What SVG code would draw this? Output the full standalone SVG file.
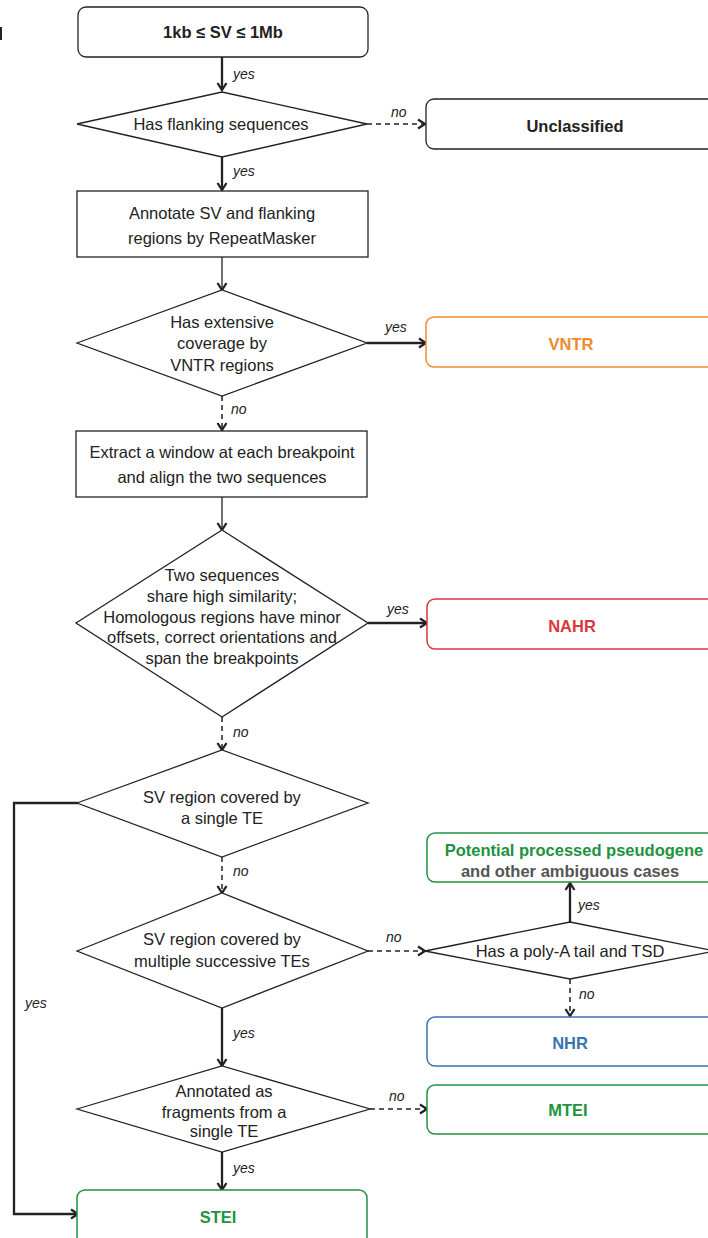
<svg xmlns="http://www.w3.org/2000/svg" width="708" height="1238" viewBox="0 0 708 1238">
<style>
.bg{fill:#fff}
.box{fill:#fff;stroke:#222;stroke-width:1.3}
.dia{fill:#fff;stroke:#222;stroke-width:1.3}
.t{font-family:"Liberation Sans",Arial,sans-serif;font-size:16.5px;fill:#222;text-anchor:middle;dominant-baseline:central}
.b{font-weight:bold}
.lab{font-family:"Liberation Sans",Arial,sans-serif;font-size:14px;font-style:italic;fill:#222;dominant-baseline:central}
.solid{fill:none;stroke:#222;stroke-width:2.3}
.thin{fill:none;stroke:#222;stroke-width:1.3}
.dash{fill:none;stroke:#222;stroke-width:1.5;stroke-dasharray:5 4}
</style>
<defs>
<marker id="ah" viewBox="0 0 12 12" refX="10" refY="6" markerWidth="12" markerHeight="12" markerUnits="userSpaceOnUse" orient="auto">
<path d="M3,1.5 L10,6 L3,10.5" fill="none" stroke="#222" stroke-width="2.3"/>
</marker>
</defs>
<rect class="bg" x="0" y="0" width="708" height="1238"/>
<rect x="0" y="27" width="2" height="13" fill="#222"/>

<g id="connectors">
<line class="solid" x1="222" y1="57" x2="222" y2="90" marker-end="url(#ah)"/>
<line class="dash" x1="367" y1="124" x2="425" y2="124" marker-end="url(#ah)"/>
<line class="solid" x1="222" y1="157" x2="222" y2="190" marker-end="url(#ah)"/>
<line class="thin" x1="222" y1="257" x2="222" y2="290" marker-end="url(#ah)"/>
<line class="solid" x1="367" y1="343" x2="426" y2="343" marker-end="url(#ah)"/>
<line class="dash" x1="222" y1="396" x2="222" y2="430" marker-end="url(#ah)"/>
<line class="thin" x1="222" y1="497" x2="222" y2="530" marker-end="url(#ah)"/>
<line class="solid" x1="368" y1="623" x2="427" y2="623" marker-end="url(#ah)"/>
<line class="dash" x1="222" y1="717" x2="222" y2="750" marker-end="url(#ah)"/>
<polyline class="solid" points="78,803 14,803 14,1214 78,1214" marker-end="url(#ah)"/>
<line class="dash" x1="222" y1="857" x2="222" y2="893" marker-end="url(#ah)"/>
<line class="dash" x1="368" y1="951" x2="425" y2="951" marker-end="url(#ah)"/>
<line class="solid" x1="570" y1="922" x2="570" y2="883" marker-end="url(#ah)"/>
<line class="dash" x1="570" y1="979" x2="570" y2="1016" marker-end="url(#ah)"/>
<line class="solid" x1="222" y1="1008" x2="222" y2="1066" marker-end="url(#ah)"/>
<line class="dash" x1="370" y1="1109" x2="427" y2="1109" marker-end="url(#ah)"/>
<line class="solid" x1="222" y1="1152" x2="222" y2="1190" marker-end="url(#ah)"/>
<text class="lab" x="233" y="74">yes</text>
<text class="lab" x="391" y="112">no</text>
<text class="lab" x="233" y="171">yes</text>
<text class="lab" x="385" y="327">yes</text>
<text class="lab" x="231" y="409">no</text>
<text class="lab" x="387" y="609">yes</text>
<text class="lab" x="233" y="732">no</text>
<text class="lab" x="233" y="871">no</text>
<text class="lab" x="386" y="937">no</text>
<text class="lab" x="578" y="905">yes</text>
<text class="lab" x="579" y="994">no</text>
<text class="lab" x="25" y="1003">yes</text>
<text class="lab" x="233" y="1033">yes</text>
<text class="lab" x="389" y="1096">no</text>
<text class="lab" x="233" y="1168">yes</text>
</g>

<g id="start">
<rect class="box" x="78" y="7" width="290" height="50" rx="8"/>
<text class="t b" x="223" y="32">1kb ≤ SV ≤ 1Mb</text>
</g>
<g id="flanking">
<polygon class="dia" points="77,124 222,92 367,124 222,157"/>
<text class="t" x="221" y="124">Has flanking sequences</text>
</g>
<g id="unclassified">
<rect class="box" x="426" y="99" width="300" height="50" rx="8"/>
<text class="t b" x="575" y="126">Unclassified</text>
</g>
<g id="annotate">
<rect class="box" x="77" y="191" width="291" height="66"/>
<text class="t" x="222" y="213">Annotate SV and flanking</text>
<text class="t" x="222" y="238">regions by RepeatMasker</text>
</g>
<g id="vntr-check">
<polygon class="dia" points="77,343 222,290 367,343 222,396"/>
<text class="t" x="222" y="322">Has extensive</text>
<text class="t" x="222" y="343">coverage by</text>
<text class="t" x="222" y="365">VNTR regions</text>
</g>
<g id="vntr">
<rect x="426" y="317" width="290" height="50" rx="8" fill="#fff" stroke="#ef8a2e" stroke-width="1.5"/>
<text class="t b" x="571" y="344" style="fill:#ef8a2e">VNTR</text>
</g>
<g id="extract">
<rect class="box" x="76" y="431" width="291" height="66"/>
<text class="t" x="222" y="452">Extract a window at each breakpoint</text>
<text class="t" x="222" y="477">and align the two sequences</text>
</g>
<g id="similarity">
<polygon class="dia" points="76,623 222,530 368,623 222,717"/>
<text class="t" x="222" y="575">Two sequences</text>
<text class="t" x="222" y="596">share high similarity;</text>
<text class="t" x="222" y="617">Homologous regions have minor</text>
<text class="t" x="222" y="637">offsets, correct orientations and</text>
<text class="t" x="222" y="658">span the breakpoints</text>
</g>
<g id="nahr">
<rect x="427" y="599" width="290" height="50" rx="8" fill="#fff" stroke="#d9393b" stroke-width="1.5"/>
<text class="t b" x="572" y="626" style="fill:#d9393b">NAHR</text>
</g>
<g id="single-te">
<polygon class="dia" points="77,803 222,750 368,803 222,857"/>
<text class="t" x="222" y="797">SV region covered by</text>
<text class="t" x="222" y="818">a single TE</text>
</g>
<g id="multi-te">
<polygon class="dia" points="77,951 222,893 368,951 222,1008"/>
<text class="t" x="222" y="939">SV region covered by</text>
<text class="t" x="222" y="961">multiple successive TEs</text>
</g>
<g id="polya">
<polygon class="dia" points="425,951 570,922 715,951 570,979"/>
<text class="t" x="570" y="951">Has a poly-A tail and TSD</text>
</g>
<g id="pseudogene">
<rect x="427" y="833" width="290" height="49" rx="8" fill="#fff" stroke="#22923f" stroke-width="1.5"/>
<text class="t b" x="574" y="850" style="fill:#22923f">Potential processed pseudogene</text>
<text class="t b" x="570" y="871" style="fill:#555">and other ambiguous cases</text>
</g>
<g id="nhr">
<rect x="427" y="1017" width="290" height="49" rx="8" fill="#fff" stroke="#3b73b1" stroke-width="1.5"/>
<text class="t b" x="570" y="1043" style="fill:#3b73b1">NHR</text>
</g>
<g id="fragments">
<polygon class="dia" points="77,1109 222,1066 370,1109 222,1152"/>
<text class="t" x="224" y="1091">Annotated as</text>
<text class="t" x="224" y="1112">fragments from a</text>
<text class="t" x="224" y="1131">single TE</text>
</g>
<g id="mtei">
<rect x="427" y="1085" width="290" height="49" rx="8" fill="#fff" stroke="#22923f" stroke-width="1.5"/>
<text class="t b" x="568" y="1110" style="fill:#22923f">MTEI</text>
</g>
<g id="stei">
<rect x="77" y="1190" width="290" height="60" rx="8" fill="#fff" stroke="#22923f" stroke-width="1.5"/>
<text class="t b" x="218" y="1217" style="fill:#22923f">STEI</text>
</g>
</svg>
